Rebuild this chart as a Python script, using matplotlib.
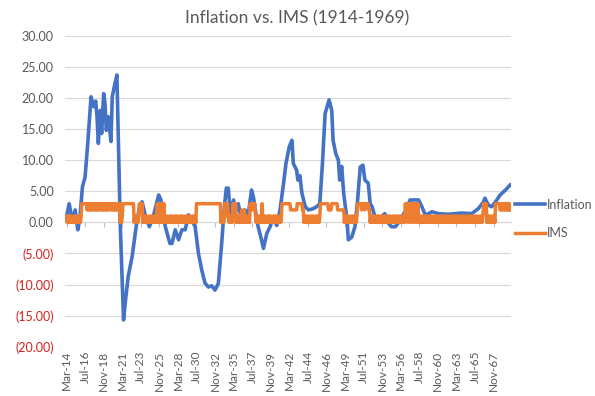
import numpy as np
import matplotlib.pyplot as plt

plt.rcParams['font.family'] = ['Lato', 'DejaVu Sans']

# inflation: months counted from Mar-1914, value in %
infl_month = [0, 4, 9, 13, 17, 20, 24, 28, 32, 37, 41, 44, 46, 48, 51, 53, 56, 58,
              60, 63, 67, 69, 72, 76, 81, 86, 89, 93, 99, 105, 110, 114, 119, 125,
              131, 139, 142, 149, 156, 159, 164, 169, 174, 179, 184, 189, 194, 199,
              204, 209, 214, 219, 224, 229, 234, 238, 241, 244, 247, 252, 255, 259,
              264, 269, 274, 279, 282, 284, 289, 294, 297, 302, 307, 312, 317, 322,
              327, 331, 336, 340, 342, 347, 349, 352, 355, 360, 365, 372, 377, 382,
              386, 390, 396, 400, 402, 406, 410, 412, 415, 418, 423, 425, 430, 435,
              439, 443, 447, 450, 455, 458, 461, 465, 473, 480, 486, 490, 496, 501,
              506, 513, 518, 531, 536, 541, 546, 551, 561, 576, 596, 611, 621, 629,
              631, 636, 641, 647, 654, 662, 669]
infl_value = [0.9, 3.0, 0.1, 2.0, -1.2, 0.5, 5.7, 7.3, 12.7, 20.2, 18.6, 19.5, 17.0,
              12.7, 18.0, 14.3, 20.7, 19.2, 14.8, 17.0, 13.0, 20.2, 21.8, 23.7, -0.2,
              -15.7, -12.5, -8.7, -5.5, -0.7, 2.5, 3.3, 1.0, -0.7, 1.0, 4.4, 3.7, -0.7,
              -3.4, -3.4, -1.2, -2.8, -1.2, -1.2, 1.2, 0.4, -0.7, -5.0, -7.7, -9.8,
              -10.4, -10.2, -10.9, -9.8, -3.4, 2.5, 5.5, 5.5, 1.4, 3.6, 1.7, 3.0, 0.4,
              2.0, 1.2, 5.2, 4.0, 2.5, -0.7, -2.8, -4.2, -1.8, -0.7, 0.9, -0.5, 2.0,
              6.0, 9.5, 12.2, 13.2, 9.5, 8.4, 6.8, 7.5, 4.7, 2.5, 2.0, 2.2, 2.5, 3.0,
              9.5, 17.5, 19.7, 18.0, 13.2, 11.1, 10.0, 6.8, 9.0, 4.7, 0.4, -2.8, -2.4,
              -0.7, 3.6, 8.9, 9.2, 6.8, 6.3, 3.0, 2.5, 0.9, 0.7, 1.4, -0.2, -0.7, -0.7,
              0.0, 0.9, 2.2, 3.6, 3.6, 2.5, 1.2, 1.4, 1.7, 1.4, 1.3, 1.5, 1.4, 2.2, 3.3,
              3.9, 2.8, 2.5, 3.3, 4.4, 5.2, 6.0]

# IMS monthly level, one string per year (1914 starts in March)
ims_by_year = [
    "1010011010",    # 1914
    "011010010110", "133333333232", "323232332323", "232332323232", "323232233232",
    "323232323330", "101333333333", "333333330101", "100132323010", "110100101101",
    "011010130313", "033013010110", "010110100101", "101001011010", "010110101001",
    "011010333333", "333333333333", "333333333333", "333333301010", "131333101101",
    "033133010110", "102101201010", "010323332331", "010110100301", "101001101010",
    "010110100101", "101333333333", "333322222222", "223333333322", "010110100101",
    "101001011010", "133333333333", "322222333333", "333222222222", "201011010010",
    "110100101333", "333233332333", "332201011010", "010110100101", "101001011010",
    "010110101001", "011010010313", "303130313031", "303130101101", "010110100101",
    "101001011010", "010110101001", "011010010110", "101001101010", "010110100101",
    "101001011010", "010110133333", "010110100101", "033333332323", "232323223232",
]

tick_labels = ["Mar-14", "Jul-16", "Nov-18", "Mar-21", "Jul-23", "Nov-25", "Mar-28",
               "Jul-30", "Nov-32", "Mar-35", "Jul-37", "Nov-39", "Mar-42", "Jul-44",
               "Nov-46", "Mar-49", "Jul-51", "Nov-53", "Mar-56", "Jul-58", "Nov-60",
               "Mar-63", "Jul-65", "Nov-67"]

ims = np.array([int(c) for s in ims_by_year for c in s], dtype=float)
months = np.arange(len(ims))
tick_pos = np.arange(len(tick_labels)) * 28

grey = '#595959'
fig = plt.figure(figsize=(5.95, 3.96), dpi=100)
ax = fig.add_axes([0.109, 0.1245, 0.75, 0.785])

l1, = ax.plot(infl_month, infl_value, color='#4472C4', lw=2.6, label='Inflation',
              solid_joinstyle='round', zorder=3)
l2, = ax.plot(months, ims, color='#ED7D31', lw=2.5, label='IMS', zorder=4)

ax.set_ylim(-20, 30)
ax.set_xlim(-2.5, 670.5)
yt = np.arange(-20, 31, 5)
ax.set_yticks(yt)
ax.set_yticklabels([f"({abs(v):.2f})" if v < 0 else f"{v:.2f}" for v in yt])
for v, lbl in zip(yt, ax.get_yticklabels()):
    lbl.set_color('#D42020' if v < 0 else grey)
ax.tick_params(axis='y', length=0, labelsize=9, pad=8)
ax.grid(axis='y', color='#D9D9D9', lw=0.8)
ax.set_axisbelow(True)
for s in ax.spines.values():
    s.set_visible(False)

ax.set_xticks(tick_pos)
ax.set_xticklabels(tick_labels, rotation=90, fontsize=8.5, color=grey)
ax.tick_params(axis='x', length=0, pad=3)

# axis line at zero with tick marks
sec = ax.secondary_xaxis(0.4)
sec.set_xticks(tick_pos)
sec.tick_params(axis='x', length=3.5, color='#BFBFBF', labelbottom=False, width=0.8)
for s in sec.spines.values():
    s.set_color('#BFBFBF')
    s.set_linewidth(0.8)

fig.suptitle("Inflation vs. IMS (1914-1969)", x=0.5, y=0.975, fontsize=12.5, color=grey)

fig.legend(handles=[l1, l2], loc='center left', bbox_to_anchor=(0.866, 0.447),
           frameon=False, fontsize=9, handlelength=2.4, handletextpad=0.15,
           labelspacing=1.35, borderpad=0, borderaxespad=0, labelcolor=grey)

fig.savefig('out.png', dpi=100)
